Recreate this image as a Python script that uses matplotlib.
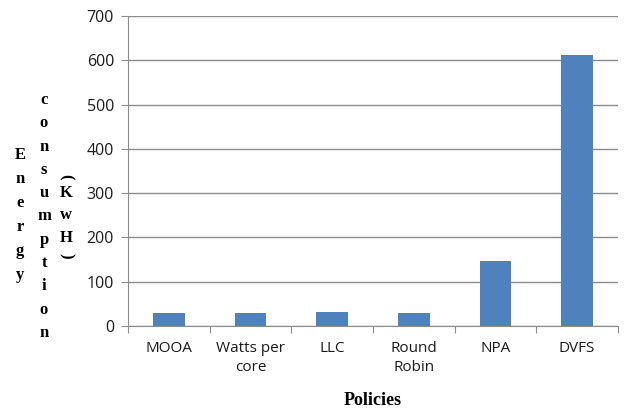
import matplotlib
matplotlib.use("Agg")
import matplotlib.pyplot as plt
import numpy as np

policies = ["MOOA", "Watts per\ncore", "LLC", "Round\nRobin", "NPA", "DVFS"]
energy = [29, 29, 32, 29, 147, 612]
yticks = [0, 100, 200, 300, 400, 500, 600, 700]

fig = plt.figure(figsize=(6.36, 4.09), dpi=100)
ax = fig.add_axes([128 / 636, 1 - 326 / 409, 490 / 636, 310 / 409])

x = np.arange(len(policies))
ax.bar(x, energy, width=0.39, color="#4F81BD", zorder=3)
ax.set_xlim(-0.5, len(policies) - 0.5)
ax.set_ylim(0, 700)
ax.set_yticks(yticks)
ax.yaxis.grid(True, color="#8c8c8c", linewidth=1, zorder=0)

# ticks between categories on x, labels centred without ticks
ax.set_xticks(np.arange(-0.5, len(policies)), minor=False)
ax.set_xticklabels([])
ax.set_xticks(x, minor=True)
ax.set_xticklabels(policies, minor=True, fontsize=11, family="Open Sans", color="#1a1a1a",
                   linespacing=1.35)
ax.tick_params(axis="x", which="minor", length=0, pad=11)
ax.tick_params(axis="x", which="major", length=5, color="#8c8c8c", direction="out")
ax.tick_params(axis="y", length=5, color="#8c8c8c", direction="out", labelsize=11.5,
               labelcolor="#1a1a1a", pad=5)
for lbl in ax.get_yticklabels():
    lbl.set_family("Open Sans")

for s in ["top", "right"]:
    ax.spines[s].set_visible(False)
ax.spines["left"].set_color("#8c8c8c")
ax.spines["bottom"].set_color("#8c8c8c")

ax.set_xlabel("Policies", fontsize=13, family="Liberation Serif", fontweight="bold", labelpad=12)

# stacked-letter y label, three columns
def column(word, xpix, ystart, step):
    for k, ch in enumerate(word):
        fig.text(xpix / 636, 1 - (ystart + k * step) / 409, ch, ha="center", va="center",
                 fontsize=12, family="Liberation Serif", fontweight="bold")

column("Energy", 20, 155, 24)
column("consumption", 44, 100, 23.3)
column("KwH", 66, 193, 22.5)
fig.text(66 / 636, 1 - 177 / 409, "(", rotation=-90, ha="center", va="center",
         fontsize=12, family="Liberation Serif", fontweight="bold")
fig.text(66 / 636, 1 - 256 / 409, ")", rotation=-90, ha="center", va="center",
         fontsize=12, family="Liberation Serif", fontweight="bold")

fig.savefig("out.png", dpi=100)
